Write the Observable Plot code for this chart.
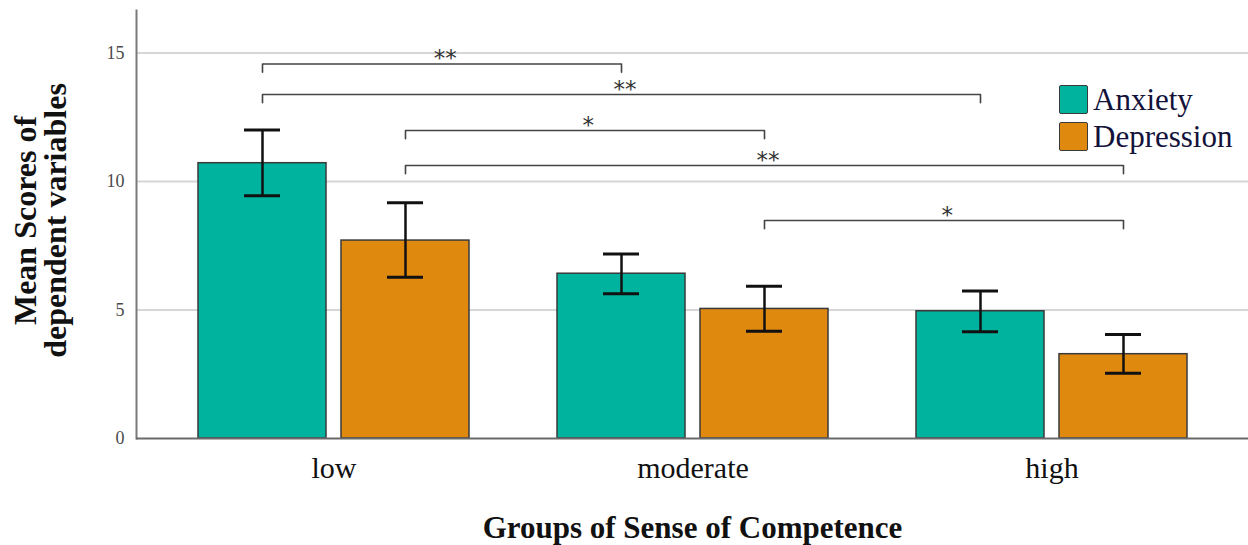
<!DOCTYPE html>
<html>
<head>
<meta charset="utf-8">
<script src="https://cdn.jsdelivr.net/npm/d3@7"></script>
<script src="https://cdn.jsdelivr.net/npm/@observablehq/plot@0.6"></script>
<style>
  html, body { margin: 0; padding: 0; background: #fff; }
  #wrap { position: relative; width: 1248px; height: 545px; overflow: hidden; }
  .legend-swatch { position: absolute; width: 27px; height: 27px; border: 1.5px solid #3a3a3a; border-radius: 2px; }
  .legend-label { position: absolute; font-family: "Liberation Serif", serif; font-size: 31px; line-height: 31px; color: #12123a; white-space: nowrap; }
</style>
</head>
<body>
<div id="wrap"></div>
<script>
// ---- data ----
const groups = ["low", "moderate", "high"];
const seriesNames = ["Anxiety", "Depression"];
const seriesColors = ["#00B39F", "#E0890F"];

const anxietyMean  = [10.71, 6.41, 4.95];
const anxietyLower = [9.44, 5.63, 4.15];
const anxietyUpper = [12.0, 7.18, 5.74];

const depressionMean  = [7.70, 5.04, 3.28];
const depressionLower = [6.27, 4.17, 2.54];
const depressionUpper = [9.17, 5.92, 4.05];

const yTicks = [0, 5, 10, 15];

const bracketSeries = ["Anxiety", "Anxiety", "Depression", "Depression", "Depression"];
const bracketFrom   = ["low", "low", "low", "low", "moderate"];
const bracketTo     = ["moderate", "high", "moderate", "high", "high"];
const bracketLevel  = [14.57, 13.38, 11.98, 10.62, 8.48];
const bracketLabel  = ["**", "**", "*", "**", "*"];

const yLabel = "Mean Scores of\ndependent variables";
const xLabel = "Groups of Sense of Competence";

// ---- layout ----
const W = 1248, H = 545, mL = 136, mR = 0, mT = 10, mB = 107;
const yMax = 16.65;
const xPad = {paddingInner: 0.246, paddingOuter: 0.17};
const serif = "Liberation Serif, Times New Roman, serif";

const xs = Plot.scale({x: {type: "band", domain: groups, range: [mL, W - mR], ...xPad}});
const bw = xs.bandwidth;
const gap = 15;
const barW = (bw - gap) / 2;
const centerOff = gap / 2 + barW / 2;
const offsetOf = {Anxiety: -centerOff, Depression: centerOff};
const capHalf = 18;
const bracketDrop = 0.32; // tick length of bracket ends, in y units

const rowsFor = (name, mean, lo, hi) =>
  groups.map((g, i) => ({group: g, series: name, mean: mean[i], lower: lo[i], upper: hi[i]}));
const anxRows = rowsFor("Anxiety", anxietyMean, anxietyLower, anxietyUpper);
const depRows = rowsFor("Depression", depressionMean, depressionLower, depressionUpper);

const comparisons = bracketSeries.map((s, i) => ({
  series: s, from: bracketFrom[i], to: bracketTo[i], level: bracketLevel[i], label: bracketLabel[i], id: i
}));

function bracketPoints(series) {
  return comparisons.filter(c => c.series === series).flatMap(c => [
    {x: c.from, y: c.level - bracketDrop, id: c.id},
    {x: c.from, y: c.level, id: c.id},
    {x: c.to, y: c.level, id: c.id},
    {x: c.to, y: c.level - bracketDrop, id: c.id}
  ]);
}

const marks = [
  Plot.ruleY(yTicks.filter(d => d > 0), {stroke: "#d6d6d6", strokeWidth: 2}),
  Plot.frame({anchor: "left", stroke: "#7a7a7a", strokeWidth: 2}),
  Plot.axisY({ticks: yTicks, tickSize: 0, tickPadding: 12, fontSize: 18, fill: "#4a4a4a", fontFamily: serif, label: null}),
  Plot.axisX({tickSize: 0, tickPadding: 18, fontSize: 30, fill: "#111", fontFamily: serif, label: null}),
  // bars
  Plot.barY(anxRows, {x: "group", y1: 0, y2: "mean", insetRight: bw - barW, fill: seriesColors[0], stroke: "#3a3a3a", strokeWidth: 1.5}),
  Plot.barY(depRows, {x: "group", y1: 0, y2: "mean", insetLeft: bw - barW, fill: seriesColors[1], stroke: "#3a3a3a", strokeWidth: 1.5}),
  Plot.ruleY([0], {stroke: "#6a6a6a", strokeWidth: 2}),
  // error bars
  Plot.ruleX(anxRows, {x: "group", y1: "lower", y2: "upper", dx: offsetOf.Anxiety, stroke: "#111", strokeWidth: 2.5}),
  Plot.ruleX(depRows, {x: "group", y1: "lower", y2: "upper", dx: offsetOf.Depression, stroke: "#111", strokeWidth: 2.5}),
  ...["lower", "upper"].flatMap(k => [
    Plot.tickY(anxRows, {x: "group", y: k, insetLeft: barW / 2 - capHalf, insetRight: bw - barW / 2 - capHalf, stroke: "#111", strokeWidth: 3}),
    Plot.tickY(depRows, {x: "group", y: k, insetLeft: bw - barW / 2 - capHalf, insetRight: barW / 2 - capHalf, stroke: "#111", strokeWidth: 3})
  ]),
  // significance brackets
  ...seriesNames.map(s => Plot.line(bracketPoints(s), {x: "x", y: "y", z: "id", dx: offsetOf[s], stroke: "#444", strokeWidth: 1.6, curve: "linear"})),
  ...comparisons.map(c => Plot.text([c], {
    x: "from", y: "level", text: "label",
    dx: offsetOf[c.series] + (xs.apply(c.to) - xs.apply(c.from)) / 2 + 3,
    dy: -5, fontSize: 23, fontFamily: "DejaVu Sans, sans-serif", fill: "#333", letterSpacing: "4px"
  })),
  // axis titles
  Plot.text([yLabel], {frameAnchor: "left", textAnchor: "middle", rotate: -90, dx: -95, dy: -4, fontSize: 32, lineHeight: 0.94, fontWeight: "bold", fontFamily: serif, fill: "#111"}),
  Plot.text([xLabel], {frameAnchor: "bottom", dy: 99, lineAnchor: "bottom", fontSize: 31, fontWeight: "bold", fontFamily: serif, fill: "#111"})
];

const chart = Plot.plot({
  width: W, height: H,
  marginLeft: mL, marginRight: mR, marginTop: mT, marginBottom: mB,
  x: {type: "band", domain: groups, ...xPad},
  y: {domain: [0, yMax]},
  style: {fontFamily: serif, background: "white", overflow: "visible"},
  marks
});

const wrap = document.getElementById("wrap");
wrap.appendChild(chart);

// legend (inside the plot area, top right)
seriesNames.forEach((name, i) => {
  const top = 85 + i * 37;
  const sw = document.createElement("div");
  sw.className = "legend-swatch";
  sw.style.left = "1059px";
  sw.style.top = top + "px";
  sw.style.background = seriesColors[i];
  wrap.appendChild(sw);
  const lb = document.createElement("div");
  lb.className = "legend-label";
  lb.style.left = "1093px";
  lb.style.top = (top - 1) + "px";
  lb.textContent = name;
  wrap.appendChild(lb);
});
</script>
</body>
</html>
